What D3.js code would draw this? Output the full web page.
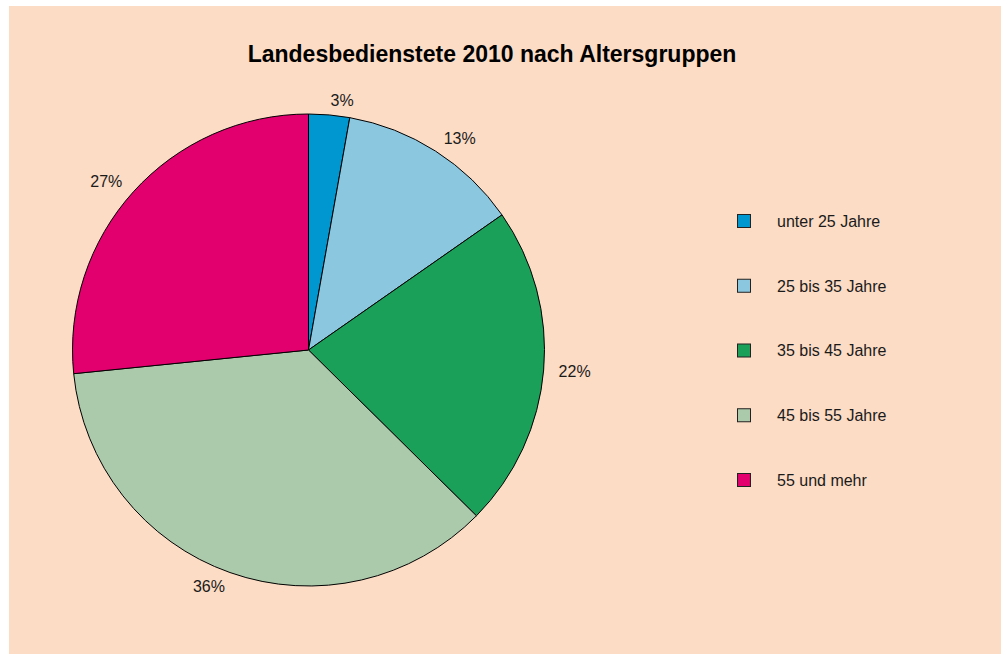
<!DOCTYPE html>
<html>
<head>
<meta charset="utf-8">
<script src="https://cdn.jsdelivr.net/npm/d3@7"></script>
<style>
  body { margin: 0; background: #ffffff; }
  svg { display: block; font-family: "Liberation Sans", Arial, sans-serif; }
</style>
</head>
<body>
<div id="chart"></div>
<script>
// data
var categories = ["unter 25 Jahre", "25 bis 35 Jahre", "35 bis 45 Jahre", "45 bis 55 Jahre", "55 und mehr"];
var shares = [2.8, 12.5, 22.1, 36.0, 26.6];
var shareLabels = ["3%", "13%", "22%", "36%", "27%"];
var colors = ["#0096cf", "#8cc7e0", "#1ba05a", "#abcaab", "#e2006f"];

var width = 1001, height = 654;

var svg = d3.select("#chart")
  .append("svg")
    .attr("width", width)
    .attr("height", height);

// peach panel
svg.append("rect")
  .attr("x", 9)
  .attr("y", 6)
  .attr("width", width - 9)
  .attr("height", height - 6)
  .style("fill", "#fcdcc5");

// title
svg.append("text")
  .attr("x", 492)
  .attr("y", 62)
  .attr("text-anchor", "middle")
  .style("font-size", "23px")
  .style("font-weight", "bold")
  .style("fill", "#000")
  .text("Landesbedienstete 2010 nach Altersgruppen");

// pie
var radius = 236;
var g = svg.append("g")
  .attr("transform", "translate(308.5,350)");

var pie = d3.pie()
  .sort(null)
  .value(function(d) { return d; });

var arc = d3.arc()
  .innerRadius(0)
  .outerRadius(radius);

var labelArc = d3.arc()
  .innerRadius(251)
  .outerRadius(251);

var arcs = pie(shares);

g.selectAll("path")
  .data(arcs)
  .enter()
  .append("path")
    .attr("d", arc)
    .style("fill", function(d, i) { return colors[i]; })
    .style("stroke", "#000")
    .style("stroke-width", 1);

g.selectAll("text.lab")
  .data(arcs)
  .enter()
  .append("text")
    .attr("class", "lab")
    .attr("x", function(d) { return labelArc.centroid(d)[0]; })
    .attr("y", function(d) { return labelArc.centroid(d)[1]; })
    .attr("dy", "0.36em")
    .attr("text-anchor", function(d) {
      return (d.startAngle + d.endAngle) / 2 < Math.PI ? "start" : "end";
    })
    .style("font-size", "16px")
    .style("fill", "#1a1a1a")
    .text(function(d, i) { return shareLabels[i]; });

// legend
var legendY = d3.scalePoint()
  .domain(categories)
  .range([221, 480]);

var legend = svg.append("g");

legend.selectAll("rect")
  .data(categories)
  .enter()
  .append("rect")
    .attr("x", 737.5)
    .attr("y", function(d) { return legendY(d) - 6.5; })
    .attr("width", 13)
    .attr("height", 13)
    .style("fill", function(d, i) { return colors[i]; })
    .style("stroke", "#222")
    .style("stroke-width", 1);

legend.selectAll("text")
  .data(categories)
  .enter()
  .append("text")
    .attr("x", 777)
    .attr("y", function(d) { return legendY(d); })
    .attr("dy", "0.36em")
    .style("font-size", "16px")
    .style("fill", "#1a1a1a")
    .text(function(d) { return d; });
</script>
</body>
</html>
